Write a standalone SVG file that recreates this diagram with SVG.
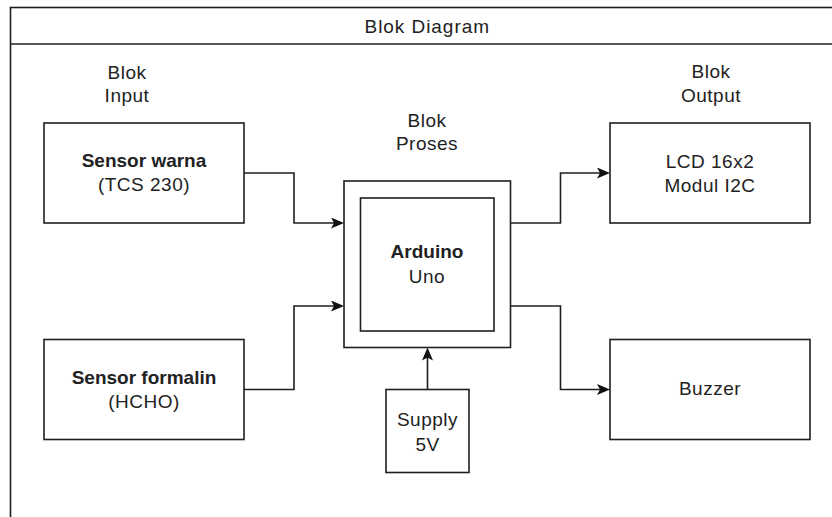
<svg xmlns="http://www.w3.org/2000/svg" width="832" height="517" viewBox="0 0 832 517">
<style>
.box{fill:#fff;stroke:#1f1f1f;stroke-width:1.6}
.frame{fill:#fff;stroke:#1f1f1f;stroke-width:1.6}
.t{font-family:"Liberation Sans",Arial,Helvetica,sans-serif;font-size:19px;fill:#222;text-anchor:middle;letter-spacing:0.5px}
.b{font-weight:bold;letter-spacing:0}
.c{fill:none;stroke:#1f1f1f;stroke-width:1.6}
</style>
<defs>
<marker id="arr" markerUnits="userSpaceOnUse" markerWidth="14" markerHeight="12" refX="10" refY="5.5" orient="auto">
<path d="M0,0 L13,5.5 L0,11 L3,5.5 Z" fill="#111"/>
</marker>
</defs>
<g id="frame">
<rect class="frame" x="10.5" y="7.5" width="840" height="540"/>
<line class="c" x1="10.5" y1="44" x2="850" y2="44"/>
<text class="t" x="427" y="33" textLength="125" lengthAdjust="spacing">Blok Diagram</text>
</g>
<g id="label-input">
<text class="t" x="127" y="79">Blok</text>
<text class="t" x="127" y="102">Input</text>
</g>
<g id="label-proses">
<text class="t" x="427" y="126.5">Blok</text>
<text class="t" x="427" y="150">Proses</text>
</g>
<g id="label-output">
<text class="t" x="711" y="78">Blok</text>
<text class="t" x="711" y="101.5">Output</text>
</g>
<g id="sensor-warna">
<rect class="box" x="44" y="123" width="200" height="100"/>
<text class="t b" x="144" y="167">Sensor warna</text>
<text class="t" x="144" y="190.5">(TCS 230)</text>
</g>
<g id="sensor-formalin">
<rect class="box" x="44" y="339.5" width="200" height="100"/>
<text class="t b" x="144" y="383.5">Sensor formalin</text>
<text class="t" x="144" y="407.5">(HCHO)</text>
</g>
<g id="proses">
<rect class="box" x="344" y="181" width="166.5" height="166.5"/>
<rect class="box" x="360.5" y="198" width="133.5" height="133"/>
<text class="t b" x="427" y="258">Arduino</text>
<text class="t" x="427" y="283">Uno</text>
</g>
<g id="lcd">
<rect class="box" x="610" y="123" width="200" height="100"/>
<text class="t" x="710" y="167.5">LCD 16x2</text>
<text class="t" x="710" y="192">Modul I2C</text>
</g>
<g id="buzzer">
<rect class="box" x="610" y="339.5" width="200" height="100"/>
<text class="t" x="710" y="395">Buzzer</text>
</g>
<g id="supply">
<rect class="box" x="386" y="389.5" width="83" height="83"/>
<text class="t" x="427.5" y="426">Supply</text>
<text class="t" x="427.5" y="451">5V</text>
</g>
<g id="connectors">
<path class="c" d="M244,173 H294 V223 H341" marker-end="url(#arr)"/>
<path class="c" d="M244,389.5 H294 V306 H341" marker-end="url(#arr)"/>
<path class="c" d="M510.5,223 H560.5 V173 H607" marker-end="url(#arr)"/>
<path class="c" d="M510.5,306 H560.5 V389.5 H607" marker-end="url(#arr)"/>
<path class="c" d="M427.5,389.5 V350.5" marker-end="url(#arr)"/>
</g>
</svg>
